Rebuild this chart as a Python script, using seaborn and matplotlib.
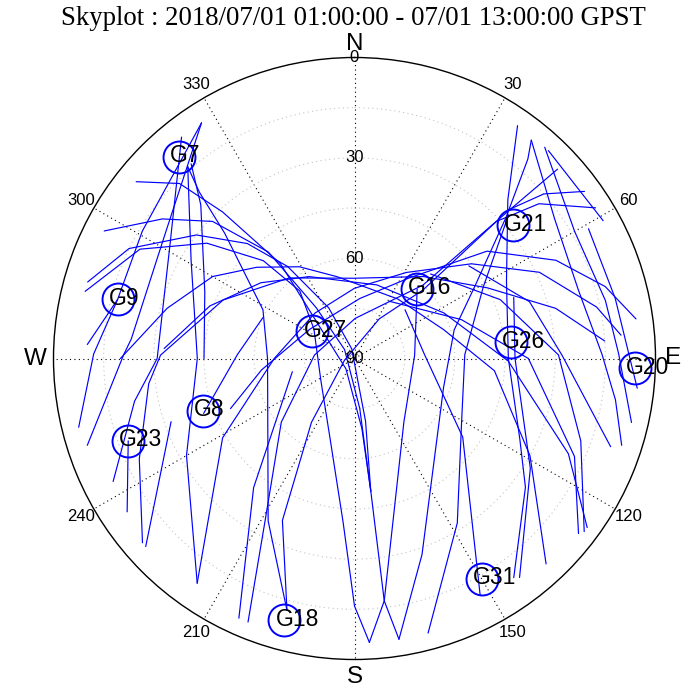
import numpy as np
import pandas as pd
import matplotlib
matplotlib.use("Agg")
import matplotlib.pyplot as plt
import seaborn as sns

# satellite tracks: azimuth (deg) / elevation (deg)
t01_az = [327, 301, 284, 273]
t01_el = [6, 16, 17, 10]
t02_az = [327, 304, 275, 271, 252]
t02_el = [6, 22, 23, 21, 6]
t03_az = [322, 302, 270, 259, 243]
t03_el = [6, 25, 31, 23, 9]
t04_az = [319, 301, 270, 240, 215]
t04_el = [14, 33, 43, 32, 8]
t05_az = [320, 315, 294, 270]
t05_el = [14, 25, 41, 45]
t06_az = [319, 317, 314, 298, 270, 208, 195]
t06_el = [14, 22, 36, 59, 64, 35, 12]
t07_az = [250, 272, 294]
t07_el = [42, 55, 60]
t08_az = [309, 315, 318, 322, 311, 220, 174, 173]
t08_el = [6, 16, 31, 54, 77, 86, 69, 50]
t09_az = [297, 306, 314, 321, 323, 312, 174, 173, 173, 171]
t09_el = [6, 19, 31, 49, 71, 86, 75, 50, 17, 5]
t10_az = [171, 161, 108, 74, 59, 47, 41, 39]
t10_el = [5, 28, 62, 59, 48, 28, 11, 6]
t11_az = [286, 296, 308, 317, 324, 333, 344, 170, 173]
t11_el = [7, 15, 30, 43, 56, 73, 87, 71, 50]
t12_az = [284, 297, 308, 317, 321, 306, 237, 197, 184, 180, 177]
t12_el = [7, 18, 34, 50, 64, 75, 78, 65, 41, 16, 5]
t13_az = [177, 173, 142, 87, 42]
t13_el = [5, 17, 66, 72, 62]
t14_az = [270, 285, 300, 313, 329, 348, 36, 72, 95, 119, 137]
t14_el = [20, 32, 41, 50, 58, 65, 68, 62, 48, 30, 6]
t15_az = [229, 245, 263, 271, 294, 321, 0, 40, 62, 76, 86]
t15_el = [6, 19, 28, 32, 47, 59, 66, 58, 45, 28, 15]
t16_az = [215, 239, 270, 319, 0, 31, 51, 65, 78, 85]
t16_el = [8, 44, 66, 72, 69, 60, 45, 29, 16, 10]
t17_az = [248, 263, 303, 5, 34, 51, 64, 74, 82]
t17_el = [50, 62, 74, 72, 61, 39, 23, 12, 5]
t18_az = [202, 209, 229, 275, 1, 43, 46, 47]
t18_el = [5, 35, 61, 78, 78, 60, 30, 7]
t19_az = [204, 218, 258]
t19_el = [5, 41, 71]
t20_az = [195, 204, 214, 261, 32, 45, 46, 50, 58]
t20_el = [12, 37, 67, 87, 76, 61, 31, 18, 5]
t21_az = [251, 228]
t21_el = [32, 6]
t22_az = [250, 236]
t22_el = [18, 8]
t23_az = [284, 271, 256]
t23_el = [17, 12, 5]
t24_az = [35, 44, 63, 90, 116, 127, 144]
t24_el = [5, 24, 39, 44, 35, 26, 9]
t25_az = [69, 90, 122, 143]
t25_el = [39, 42, 28, 8]
t26_az = [39, 55, 73, 89, 99, 108]
t26_el = [6, 17, 20, 16, 11, 6]
t27_az = [42, 60, 77, 89, 103]
t27_el = [5, 14, 13, 11, 5]
t28_az = [43, 61]
t28_el = [5, 5]
t29_az = [46, 49, 54]
t29_el = [26, 15, 5]
t30_az = [273, 290, 309, 331, 17, 63, 91, 114, 126]
t30_el = [33, 44, 54, 62, 67, 60, 44, 20, 4]
t31_az = [31, 70, 90, 114, 128]
t31_el = [70, 56, 38, 18, 5]
t32_az = [42, 68, 89, 110, 127]
t32_el = [56, 43, 29, 18, 4]
t33_az = [51, 72, 89, 109]
t33_el = [46, 35, 28, 9]
t34_az = [61, 77, 96]
t34_el = [10, 10, 5]
t35_az = [46, 87, 126, 152]
t35_el = [69, 69, 50, 10]
t36_az = [165, 148, 120, 88, 61, 47]
t36_el = [5, 32, 53, 57, 46, 27]

# satellite positions at the marker
sat_names = ["G7", "G9", "G27", "G16", "G21", "G26", "G20", "G8", "G23", "G31", "G18"]
sat_az = [319, 284, 303, 42, 50, 84, 92, 251, 250, 150, 195]
sat_el = [10, 17, 75, 62, 28, 43, 6, 42, 18, 14, 9]

az_labels = ["N", "30", "60", "E", "120", "150", "S", "210", "240", "W", "300", "330"]
el_labels = [0, 30, 60, 90]
title = "Skyplot : 2018/07/01 01:00:00 - 07/01 13:00:00 GPST"

tracks = [
    (t01_az, t01_el), (t02_az, t02_el), (t03_az, t03_el), (t04_az, t04_el),
    (t05_az, t05_el), (t06_az, t06_el), (t07_az, t07_el), (t08_az, t08_el),
    (t09_az, t09_el), (t10_az, t10_el), (t11_az, t11_el), (t12_az, t12_el),
    (t13_az, t13_el), (t14_az, t14_el), (t15_az, t15_el), (t16_az, t16_el),
    (t17_az, t17_el), (t18_az, t18_el), (t19_az, t19_el), (t20_az, t20_el),
    (t21_az, t21_el), (t22_az, t22_el), (t23_az, t23_el), (t24_az, t24_el),
    (t25_az, t25_el), (t26_az, t26_el), (t27_az, t27_el), (t28_az, t28_el),
    (t29_az, t29_el), (t30_az, t30_el), (t31_az, t31_el), (t32_az, t32_el),
    (t33_az, t33_el), (t34_az, t34_el), (t35_az, t35_el), (t36_az, t36_el),
]

rows = []
for k, (azs, els) in enumerate(tracks):
    for i, (a, e) in enumerate(zip(azs, els)):
        rows.append((k, i, a, e))
df = pd.DataFrame(rows, columns=["track", "i", "az", "el"])
df["theta"] = np.radians(df["az"])
df["zen"] = 90 - df["el"]

sns.set_theme(style="white")
plt.rcParams["font.family"] = ["Liberation Sans", "DejaVu Sans"]
plt.rcParams["text.color"] = "black"

fig = plt.figure(figsize=(6.93, 6.89), dpi=100)
ax = fig.add_axes([53.5/693, 29.5/689, 602/693, 602/689], projection="polar")
ax.set_theta_zero_location("N")
ax.set_theta_direction(-1)

sns.lineplot(data=df, x="theta", y="zen", units="track", estimator=None, sort=False,
             color="blue", lw=0.85, ax=ax)

sth = np.radians(sat_az)
szen = 90 - np.array(sat_el)
ax.plot(sth, szen, ls="none", marker="o", ms=23, mfc="none", mec="blue", mew=1.4)
for name, th, z in zip(sat_names, sth, szen):
    ax.annotate(name, (th, z), xytext=(-9, 1), textcoords="offset pixels",
                ha="left", va="center", fontsize=16.5, color="black")

ax.set_ylim(0, 90)
ax.set_thetagrids(range(0, 360, 30), labels=[""] * 12)
ax.set_rgrids([15, 30, 45, 60, 75], labels=[""] * 5)
ax.xaxis.grid(True, color="black", linestyle=(0, (1, 3)), linewidth=0.8)
ax.yaxis.grid(True, color="#c4c4c4", linestyle=(0, (1, 3)), linewidth=0.8)
ax.spines["polar"].set_color("black")
ax.spines["polar"].set_linewidth(1.0)
ax.set_xlabel("")
ax.set_ylabel("")

for a, s in zip(range(0, 360, 30), az_labels):
    if s == "N":
        rr, fs = 94.0, 17.5
    elif s in ("E", "S", "W"):
        rr, fs = 95.3, 17.5
    else:
        rr, fs = 94.5, 12
    ax.text(np.radians(a), rr, s, fontsize=fs, ha="center", va="center", color="black")
for e in el_labels:
    ax.text(0, 90 - e, str(e), fontsize=12, ha="center", va="center", color="black")

fig.text(353/693, 1 - 18.5/689, title, fontfamily="Liberation Serif", fontsize=19.3,
         ha="center", va="center", color="black")

fig.savefig("out.png", dpi=100)
